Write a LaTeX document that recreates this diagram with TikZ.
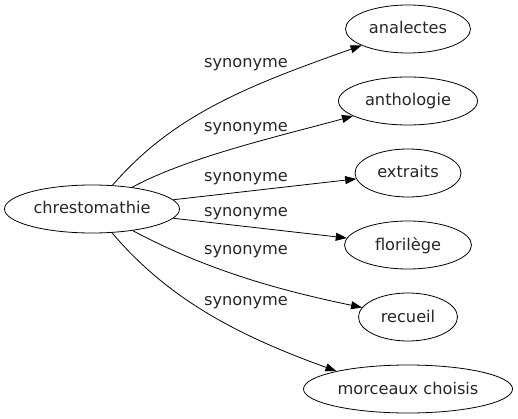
\documentclass[tikz,border=0pt]{standalone}
\usepackage{fontspec}
\setmainfont{DejaVu Sans}
\usetikzlibrary{shapes.geometric,arrows.meta}

\begin{document}
\begin{tikzpicture}[x=1pt, y=-1pt,
	mot/.style={draw, black, line width=0.8pt, ellipse, inner sep=0pt, minimum height=48pt, text=black!85, text height=12pt, text depth=2pt, font=\fontsize{16.2}{19}\selectfont},
	rel/.style={inner sep=0pt, text=black!85, font=\fontsize{16.2}{19}\selectfont},
	fleche/.style={black, line width=0.8pt, -{Triangle[length=11pt, width=8pt]}}]
\useasboundingbox (0,0) rectangle (518,419);
\node[mot, minimum width=175pt] (ch) at (92,209) {chrestomathie};
\node[mot, minimum width=125pt] (an) at (408,29) {analectes};
\node[mot, minimum width=139pt] (anth) at (408,101) {anthologie};
\node[mot, minimum width=106pt] (ex) at (408,173) {extraits};
\node[mot, minimum width=127pt] (flo) at (408,245) {florilège};
\node[mot, minimum width=99pt] (re) at (408,317) {recueil};
\node[mot, minimum width=209pt] (mc) at (408,389) {morceaux choisis};
\foreach \y/\n in {65/s1, 129/s2, 179/s3, 213.5/s4, 251.5/s5, 303/s6}{
	\node[rel] (\n) at (246,\y) {synonyme};
}
\draw[fleche] (ch) .. controls (174,114) and (250,85) .. (an);
\draw[fleche] (ch) .. controls (188,157) and (280,136) .. (anth);
\draw[fleche] (ch) -- (ex);
\draw[fleche] (ch) -- (flo);
\draw[fleche] (ch) .. controls (204,268.5) and (273,289) .. (re);
\draw[fleche] (ch) .. controls (172,304) and (248,339) .. (mc.166);
\end{tikzpicture}
\end{document}
